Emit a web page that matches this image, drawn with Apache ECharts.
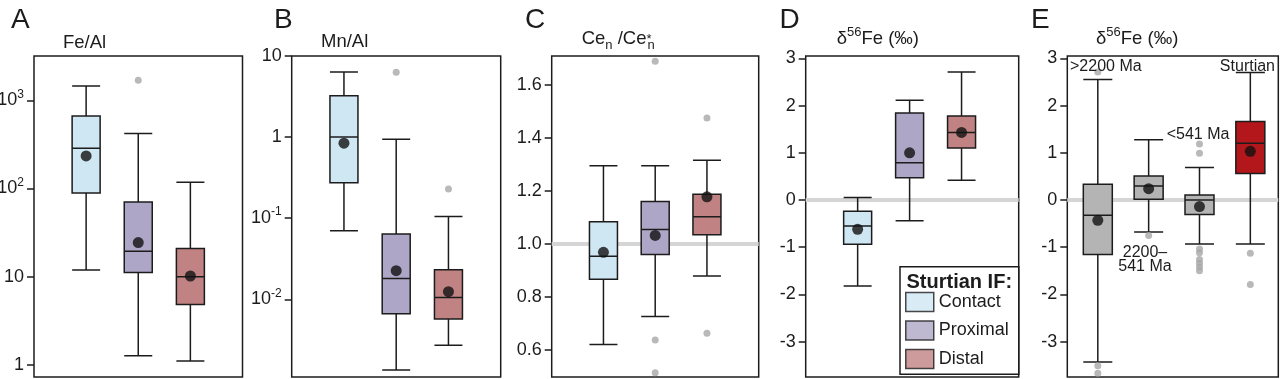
<!DOCTYPE html>
<html><head><meta charset="utf-8">
<script src="https://cdn.jsdelivr.net/npm/echarts@6/dist/echarts.min.js"></script>
<style>html,body{margin:0;padding:0;background:#fff}#c{width:1280px;height:379px}</style>
</head><body><div id="c"></div><script>
const FONT = 'Liberation Sans, Arial, Helvetica, sans-serif';
const INK = '#1c1c1c';

// ---- groups ----
const groups = ['Contact', 'Proximal', 'Distal'];
const groupColors = ['#cfe6f3', '#aea6c6', '#c08282'];

// ---- A: Fe/Al   box = [min, Q1, median, Q3, max] ----
const feAlBoxes = [[11.9, 89, 286, 664, 1450], [1.27, 11.2, 19.4, 70.5, 420], [1.11, 4.85, 10, 20.9, 118]];
const feAlMeans = [234, 24.4, 10.2];
const feAlOutliers = [[], [1683], []];
const feAlTicks = [1, 10, 100, 1000];
const feAlTickLabels = ['1', '10', '{b|10}{s|2}', '{b|10}{s|3}'];

// ---- B: Mn/Al ----
const mnAlBoxes = [[0.070, 0.274, 1.0, 3.24, 6.35], [0.00134, 0.00664, 0.0180, 0.0638, 0.94], [0.00271, 0.00571, 0.0105, 0.0232, 0.105]];
const mnAlMeans = [0.84, 0.0225, 0.0124];
const mnAlOutliers = [[], [6.3], [0.229]];
const mnAlTicks = [0.01, 0.1, 1, 10];
const mnAlTickLabels = ['{b|10}{s|-2}', '{b|10}{s|-1}', '1', '10'];

// ---- C: Ce_n/Ce_n* ----
const ceBoxes = [[0.620, 0.866, 0.953, 1.084, 1.295], [0.726, 0.960, 1.054, 1.160, 1.295], [0.879, 1.035, 1.103, 1.188, 1.316]];
const ceMeans = [0.968, 1.032, 1.178];
const ceOutliers = [[], [1.69, 0.637, 0.513], [1.476, 0.662]];
const ceTicks = [0.6, 0.8, 1.0, 1.2, 1.4, 1.6];
const ceTickLabels = ['0.6', '0.8', '1.0', '1.2', '1.4', '1.6'];

// ---- D: d56Fe, Sturtian IF ----
const feIsoBoxes = [[-1.82, -0.94, -0.55, -0.24, 0.05], [-0.44, 0.47, 0.79, 1.84, 2.11], [0.42, 1.10, 1.43, 1.78, 2.71]];
const feIsoMeans = [-0.62, 1.0, 1.43];
const feIsoOutliers = [[], [], []];
const isoTicks = [-3, -2, -1, 0, 1, 2, 3];
const isoTickLabels = ['-3', '-2', '-1', '0', '1', '2', '3'];

// ---- E: d56Fe through time ----
const eras = ['>2200 Ma', '2200–\n541 Ma', '<541 Ma', 'Sturtian'];
const eraColors = ['#b4b4b4', '#b4b4b4', '#b4b4b4', '#b3161b'];
const eraBoxes = [[-3.43, -1.156, -0.326, 0.334, 2.55], [-0.68, 0.015, 0.298, 0.51, 1.277], [-0.93, -0.305, 0.0, 0.106, 0.687], [-0.93, 0.56, 1.20, 1.66, 2.70]];
const eraMeans = [-0.43, 0.24, -0.14, 1.03];
const eraOutliers = [[2.71, -3.51, -3.67], [-0.75], [1.185, 0.99, -1.04, -1.12, -1.26, -1.34, -1.42, -1.50], [-1.13, -1.79]];

const panels = [
  { letter: 'A', title: 'Fe/Al', left: 34, width: 208.5, log: true, yMin: 0.731, yMax: 3177, xMin: 0, xMax: 4, boxW: 28,
    boxes: feAlBoxes, means: feAlMeans, outliers: feAlOutliers, ticks: feAlTicks, labels: feAlTickLabels, colors: groupColors, ref: null,
    letterX: 11, titleX: 63, titleY: 30 },
  { letter: 'B', title: 'Mn/Al', left: 291.7, width: 209, log: true, yMin: 0.0011, yMax: 10, xMin: 0, xMax: 4, boxW: 28,
    boxes: mnAlBoxes, means: mnAlMeans, outliers: mnAlOutliers, ticks: mnAlTicks, labels: mnAlTickLabels, colors: groupColors, ref: null,
    letterX: 274, titleX: 321, titleY: 29 },
  { letter: 'C', title: '{b|Ce}{sub|n}{b| /Ce}{st|*}{sub|n}', left: 551.7, width: 207, log: false, yMin: 0.497, yMax: 1.71, xMin: 0, xMax: 4, boxW: 28,
    boxes: ceBoxes, means: ceMeans, outliers: ceOutliers, ticks: ceTicks, labels: ceTickLabels, colors: groupColors, ref: 1.0,
    letterX: 525, titleX: 581.7, titleY: 26 },
  { letter: 'D', title: '{b|δ}{sup|56}{b|Fe (‰)}', left: 805.7, width: 213, log: false, yMin: -3.75, yMax: 3.05, xMin: 0, xMax: 4.1, boxW: 28,
    boxes: feIsoBoxes, means: feIsoMeans, outliers: feIsoOutliers, ticks: isoTicks, labels: isoTickLabels, colors: groupColors, ref: 0,
    letterX: 779.5, titleX: 836.7, titleY: 26 },
  { letter: 'E', title: '{b|δ}{sup|56}{b|Fe (‰)}', left: 1067.3, width: 211, log: false, yMin: -3.75, yMax: 3.05, xMin: 0.4, xMax: 4.55, boxW: 29,
    boxes: eraBoxes, means: eraMeans, outliers: eraOutliers, ticks: isoTicks, labels: isoTickLabels, colors: eraColors, ref: 0,
    letterX: 1031, titleX: 1096, titleY: 26 }
];

const titleRich = {
  b: { fontSize: 18.5, fontFamily: FONT, color: INK, lineHeight: 26 },
  sup: { fontSize: 13, fontFamily: FONT, color: INK, lineHeight: 13, verticalAlign: 'top' },
  sub: { fontSize: 13, fontFamily: FONT, color: INK, lineHeight: 13, verticalAlign: 'bottom' },
  st: { fontSize: 13, fontFamily: FONT, color: INK, lineHeight: 13, verticalAlign: 'middle', width: 1 }
};
const labelRich = {
  b: { fontSize: 18, fontFamily: FONT, color: INK, lineHeight: 24 },
  s: { fontSize: 12, fontFamily: FONT, color: INK, lineHeight: 12, verticalAlign: 'top' }
};

const grids = [], xAxes = [], yAxes = [], series = [], titles = [];
panels.forEach((p, i) => {
  grids.push({ left: p.left, top: 56, width: p.width, height: 321, show: true, borderColor: INK, borderWidth: 1.5,
    backgroundColor: '#fff', outerBoundsMode: 'none', containLabel: false });
  xAxes.push({ type: 'value', gridIndex: i, min: p.xMin, max: p.xMax, show: false, splitLine: { show: false } });
  yAxes.push({
    type: p.log ? 'log' : 'value', logBase: 10, gridIndex: i, min: p.yMin, max: p.yMax,
    axisLine: { show: false },
    splitLine: { show: false },
    axisTick: { show: true, length: 7, lineStyle: { color: INK, width: 1.5 }, customValues: p.ticks },
    axisLabel: {
      customValues: p.ticks, margin: 10, fontSize: 18, fontFamily: FONT, color: INK, rich: labelRich,
      formatter: (v) => {
        const j = p.ticks.findIndex(t => Math.abs(t - v) <= Math.abs(t) * 1e-6 + 1e-9);
        return j >= 0 ? p.labels[j] : '';
      }
    }
  });
  const box = {
    type: 'boxplot', name: 'box' + p.letter, xAxisIndex: i, yAxisIndex: i, z: 10, boxWidth: [p.boxW, p.boxW],
    itemStyle: { borderColor: INK, borderWidth: 1.5 },
    emphasis: { disabled: true },
    data: p.boxes.map((b, j) => ({ value: [j + 1].concat(b), itemStyle: { color: p.colors[j], borderColor: INK, borderWidth: 1.5 } }))
  };
  if (p.ref !== null) {
    box.markLine = { silent: true, symbol: 'none', z: 1, label: { show: false },
      lineStyle: { color: '#d5d5d5', width: 4, type: 'solid' }, emphasis: { disabled: true },
      data: [{ yAxis: p.ref }] };
  }
  series.push(box);
  const outl = [];
  p.outliers.forEach((arr, j) => arr.forEach(v => outl.push([j + 1, v])));
  series.push({ type: 'scatter', name: 'out' + p.letter, xAxisIndex: i, yAxisIndex: i, z: 11, symbolSize: 7,
    itemStyle: { color: '#a8a8a8' }, emphasis: { disabled: true }, data: outl });
  series.push({ type: 'scatter', name: 'mean' + p.letter, xAxisIndex: i, yAxisIndex: i, z: 12, symbolSize: 11,
    itemStyle: { color: '#111111' }, emphasis: { disabled: true }, data: p.means.map((m, j) => [j + 1, m]) });

  titles.push({ text: p.letter, left: p.letterX, top: 6, padding: 0,
    textStyle: { fontSize: 28, fontWeight: 'normal', fontFamily: FONT, color: INK } });
  titles.push({ text: p.title.indexOf('{') >= 0 ? p.title : '{b|' + p.title + '}', left: p.titleX, top: p.titleY, padding: 0,
    textStyle: { fontSize: 18.5, fontWeight: 'normal', fontFamily: FONT, color: INK, rich: titleRich } });
});

// legend-only series for panel D
groups.forEach((g, j) => {
  series.push({ type: 'scatter', name: g, xAxisIndex: 3, yAxisIndex: 3, data: [],
    itemStyle: { color: groupColors[j], borderColor: INK, borderWidth: 1.5 } });
});
titles.push({ text: 'Sturtian IF:', left: 906.5, top: 272.5, padding: 0,
  textStyle: { fontSize: 20, fontWeight: 'bold', fontFamily: FONT, color: INK } });

const graphics = [
  { type: 'text', x: 1070, y: 58.5, z: 50, style: { text: eras[0], fontSize: 16, fontFamily: FONT, fill: INK, verticalAlign: 'top' } },
  { type: 'text', x: 1145, y: 246, z: 50, style: { text: eras[1], fontSize: 16, fontFamily: FONT, fill: INK, align: 'center', verticalAlign: 'top', lineHeight: 14 } },
  { type: 'text', x: 1166.7, y: 126.5, z: 50, style: { text: eras[2], fontSize: 16, fontFamily: FONT, fill: INK, verticalAlign: 'top' } },
  { type: 'text', x: 1275, y: 58.5, z: 50, style: { text: eras[3], fontSize: 16, fontFamily: FONT, fill: INK, align: 'right', verticalAlign: 'top' } }
];

const chart = echarts.init(document.getElementById('c'), null, { renderer: 'canvas' });
chart.setOption({
  animation: false,
  backgroundColor: '#fff',
  title: titles,
  grid: grids,
  xAxis: xAxes,
  yAxis: yAxes,
  legend: {
    show: true, orient: 'vertical', left: 900, top: 266.7, padding: [25, 10, 5, 5],
    itemWidth: 28, itemHeight: 19, itemGap: 8, itemTextGap: 7, icon: 'rect', data: groups, selectedMode: false,
    textStyle: { fontSize: 18, fontFamily: FONT, color: INK },
    itemStyle: { borderColor: INK, borderWidth: 1.5 },
    borderColor: INK, borderWidth: 1.5, backgroundColor: '#fff', borderRadius: 0
  },
  graphic: graphics,
  series: series
});
</script></body></html>
